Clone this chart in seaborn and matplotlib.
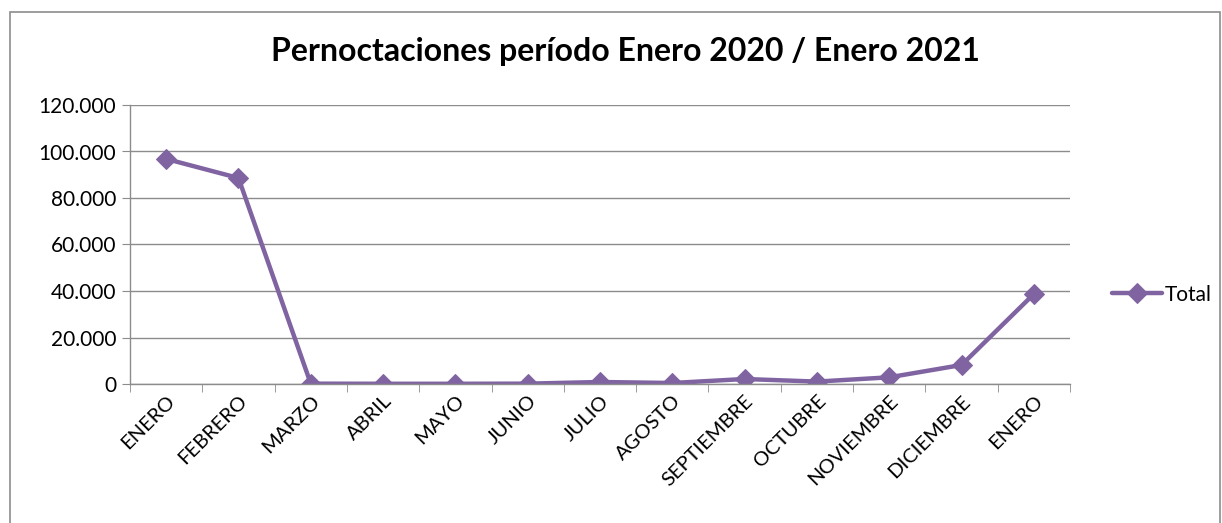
import numpy as np
import pandas as pd
import matplotlib
matplotlib.use('Agg')
import matplotlib.pyplot as plt
from matplotlib.ticker import FuncFormatter, FixedLocator
from matplotlib.patches import Rectangle
import seaborn as sns

# data
meses = ['ENERO', 'FEBRERO', 'MARZO', 'ABRIL', 'MAYO', 'JUNIO', 'JULIO',
         'AGOSTO', 'SEPTIEMBRE', 'OCTUBRE', 'NOVIEMBRE', 'DICIEMBRE', 'ENERO']
total = [96800, 88600, 150, 100, 100, 150, 860, 430, 2150, 1030, 2880, 8170, 38700]

df = pd.DataFrame({'pos': np.arange(len(meses)), 'Total': total})

sns.set_style('white', {'text.color': 'black', 'xtick.color': 'black', 'ytick.color': 'black'})
plt.rcParams['font.family'] = ['Lato', 'DejaVu Sans']

fig = plt.figure(figsize=(12.22, 5.23), dpi=100)
ax = fig.add_axes([130 / 1222, 1 - 384 / 523, 940 / 1222, 279 / 523])

purple = '#8064A2'
sns.lineplot(data=df, x='pos', y='Total', ax=ax, color=purple, linewidth=3.2,
             marker='D', markersize=10, markeredgecolor=purple, label='Total',
             sort=False)

ax.set_xlim(-0.5, len(meses) - 0.5)
ax.set_ylim(0, 120000)
ax.set_yticks(np.arange(0, 120001, 20000))
ax.yaxis.set_major_formatter(FuncFormatter(lambda v, p: '0' if v == 0 else f'{int(v):,}'.replace(',', '.')))
ax.yaxis.grid(True, color='#8c8c8c', linewidth=1)
ax.set_xlabel('')
ax.set_ylabel('')

ax.set_xticks(df['pos'])
ax.set_xticklabels(meses, rotation=45, ha='right', rotation_mode='anchor')
ax.xaxis.set_minor_locator(FixedLocator(np.arange(-0.5, len(meses), 1)))
ax.tick_params(axis='x', which='major', length=0, labelsize=14.5, pad=6, labelcolor='black')
ax.tick_params(axis='x', which='minor', length=6, color='#8c8c8c', bottom=True)
ax.tick_params(axis='y', length=6, color='#8c8c8c', left=True, labelsize=15, pad=4, labelcolor='black')

for s in ['top', 'right']:
    ax.spines[s].set_visible(False)
for s in ['left', 'bottom']:
    ax.spines[s].set_color('#8c8c8c')
    ax.spines[s].set_linewidth(1)

fig.text(625 / 1222, 1 - 52 / 523, 'Pernoctaciones período Enero 2020 / Enero 2021',
         ha='center', va='center', fontsize=23, fontweight='bold', color='black')

leg = ax.legend(loc='center left', bbox_to_anchor=(1.025, 0.32), frameon=False,
                fontsize=15, handlelength=2.4, handletextpad=0.1)
for t in leg.get_texts():
    t.set_color('black')

fig.patches.append(Rectangle((10 / 1222, -0.01), 1210 / 1222, 1 - 12 / 523 + 0.01,
                             transform=fig.transFigure, fill=False,
                             edgecolor='#8c8c8c', linewidth=1.2))

fig.savefig('out.png', dpi=100)
